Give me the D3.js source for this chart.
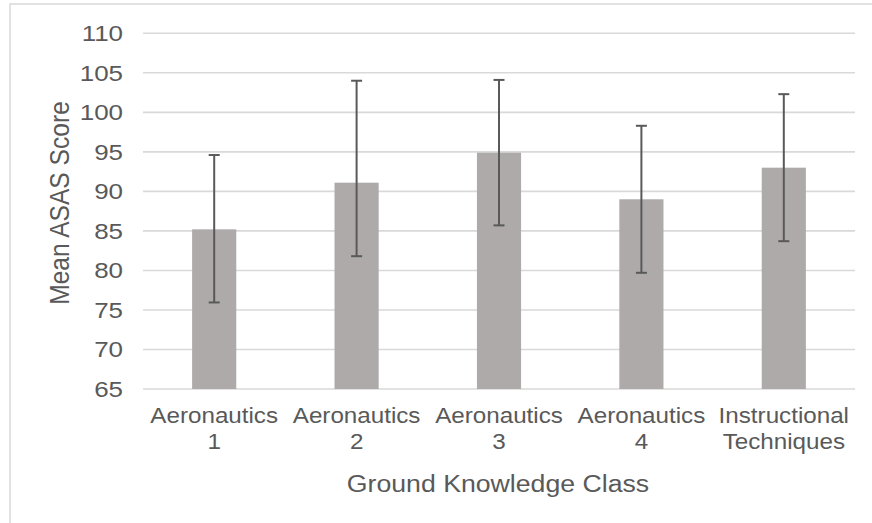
<!DOCTYPE html>
<html>
<head>
<meta charset="utf-8">
<script src="https://cdn.jsdelivr.net/npm/d3@7"></script>
<style>
  html, body { margin: 0; padding: 0; background: #fff; }
  svg { display: block; font-family: "Liberation Sans", Arial, sans-serif; }
</style>
</head>
<body>
<svg id="chart" width="872" height="523"></svg>
<script>
// Ground knowledge classes and their mean ASAS scores with error-bar ends
const categories = ["Aeronautics 1", "Aeronautics 2", "Aeronautics 3", "Aeronautics 4", "Instructional Techniques"];
const categoryLines = [["Aeronautics", "1"], ["Aeronautics", "2"], ["Aeronautics", "3"], ["Aeronautics", "4"], ["Instructional", "Techniques"]];
const meanScores = [85.2, 91.1, 94.9, 89.0, 93.0];
const lowerBounds = [75.95, 81.8, 85.7, 79.7, 83.7];
const upperBounds = [94.6, 104.0, 104.1, 98.3, 102.3];
const yTicks = [65, 70, 75, 80, 85, 90, 95, 100, 105, 110];

const svg = d3.select("#chart");
const textColor = "#595959";

// chart frame
svg.append("rect")
  .attr("x", 10).attr("y", 4)
  .attr("width", 880).attr("height", 540)
  .attr("fill", "#fff")
  .attr("stroke", "#d9d9d9").attr("stroke-width", 1.5);

const plot = { left: 143, right: 855, top: 33.3, bottom: 389 };

const x = d3.scaleBand()
  .domain(categories)
  .range([plot.left, plot.right])
  .paddingInner(0.69)
  .paddingOuter(0.345);

const y = d3.scaleLinear()
  .domain([65, 110])
  .range([plot.bottom, plot.top]);

// horizontal gridlines
svg.append("g")
  .selectAll("line")
  .data(yTicks)
  .join("line")
  .attr("x1", plot.left).attr("x2", plot.right)
  .attr("y1", d => y(d)).attr("y2", d => y(d))
  .attr("stroke", "#d9d9d9").attr("stroke-width", 1.6);

// y tick labels
svg.append("g")
  .selectAll("text")
  .data(yTicks)
  .join("text")
  .attr("transform", d => `translate(123,${y(d) + 7.8}) scale(1.18,1)`)
  .attr("text-anchor", "end")
  .attr("font-size", 22)
  .attr("fill", textColor)
  .text(d => d);

// bars
svg.append("g")
  .selectAll("rect")
  .data(categories)
  .join("rect")
  .attr("x", d => x(d))
  .attr("width", x.bandwidth())
  .attr("y", (d, i) => y(meanScores[i]))
  .attr("height", (d, i) => y(65) - y(meanScores[i]))
  .attr("fill", "#aeaaaa");

// error bars
const capHalf = 5.5;
const err = svg.append("g")
  .attr("stroke", "#595959")
  .attr("stroke-width", 2);
categories.forEach((c, i) => {
  const cx = x(c) + x.bandwidth() / 2;
  err.append("line")
    .attr("x1", cx).attr("x2", cx)
    .attr("y1", y(lowerBounds[i])).attr("y2", y(upperBounds[i]));
  [lowerBounds[i], upperBounds[i]].forEach(v => {
    err.append("line")
      .attr("x1", cx - capHalf).attr("x2", cx + capHalf)
      .attr("y1", y(v)).attr("y2", y(v));
  });
});

// category labels (two lines each)
const catG = svg.append("g");
categories.forEach((c, i) => {
  const cx = x(c) + x.bandwidth() / 2;
  categoryLines[i].forEach((line, j) => {
    catG.append("text")
      .attr("transform", `translate(${cx},${422.7 + j * 26.5}) scale(1.1,1)`)
      .attr("text-anchor", "middle")
      .attr("font-size", 22)
      .attr("fill", textColor)
      .text(line);
  });
});

// axis titles
svg.append("text")
  .attr("transform", `translate(${(plot.left + plot.right) / 2 - 1},491.5) scale(1.16,1)`)
  .attr("text-anchor", "middle")
  .attr("font-size", 23)
  .attr("fill", textColor)
  .text("Ground Knowledge Class");

svg.append("text")
  .attr("transform", `translate(68.5,203) rotate(-90) scale(1,1.12)`)
  .attr("text-anchor", "middle")
  .attr("font-size", 24.6)
  .attr("fill", textColor)
  .text("Mean ASAS Score");
</script>
</body>
</html>
